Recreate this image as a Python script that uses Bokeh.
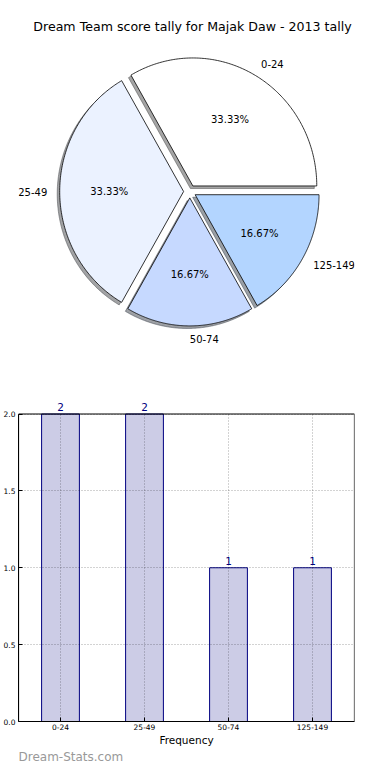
import numpy as np
from bokeh.plotting import figure
from bokeh.models import (Range1d, ColumnDataSource, Label, LabelSet,
                          FixedTicker, PrintfTickFormatter)
from bokeh.layouts import column
from bokeh.embed import file_html
from bokeh.resources import INLINE
from bokeh.core.properties import value

# ---------------- data ----------------
chart_title = "Dream Team score tally for Majak Daw - 2013 tally"
bins = ["0-24", "25-49", "50-74", "125-149"]
counts = [2, 2, 1, 1]
slice_colors = ["#FFFFFF", "#EBF2FF", "#C6D9FF", "#B3D5FF"]
bar_color = "#000080"
x_label = "Frequency"
y_ticks = [0.0, 0.5, 1.0, 1.5, 2.0]
watermark = "Dream-Stats.com"

FONT = "DejaVu Sans"
W = 358
H1 = 356
H2 = 392
H3 = 16
EXPLODE = 0.05

# ---------------- pie ----------------
total = float(sum(counts))
fracs = np.array(counts, dtype=float) / total
bounds = np.concatenate([[0.0], np.cumsum(fracs)]) * 2 * np.pi

pie = figure(width=W, height=H1,
             x_range=Range1d(-1.3826, 1.3295), y_range=Range1d(-1.289, 1.4922),
             output_backend="svg", toolbar_location=None, min_border=0)
pie.axis.visible = False
pie.grid.visible = False
pie.outline_line_color = None
pie.background_fill_color = "white"

def hex_to_rgb(h):
    h = h.lstrip("#")
    return tuple(int(h[i:i + 2], 16) for i in (0, 2, 4))

wx, wy, sx, sy, shadow_cols = [], [], [], [], []
lab_x, lab_y, lab_align = [], [], []
pct_x, pct_y, pct_txt = [], [], []
for i in range(len(counts)):
    t = np.linspace(bounds[i], bounds[i + 1], 160)
    mid = 0.5 * (bounds[i] + bounds[i + 1])
    ox, oy = EXPLODE * np.cos(mid), EXPLODE * np.sin(mid)
    px = np.concatenate([[ox], ox + np.cos(t), [ox]])
    py = np.concatenate([[oy], oy + np.sin(t), [oy]])
    wx.append(px)
    wy.append(py)
    sx.append(px - 0.02)
    sy.append(py - 0.02)
    r, g, b = hex_to_rgb(slice_colors[i])
    shadow_cols.append("#%02x%02x%02x" % (int(r * 0.3), int(g * 0.3), int(b * 0.3)))
    lab_x.append(ox + 1.1 * np.cos(mid))
    lab_y.append(oy + 1.1 * np.sin(mid))
    lab_align.append("left" if np.cos(mid) >= -1e-9 else "right")
    pct_x.append(ox + 0.6 * np.cos(mid))
    pct_y.append(oy + 0.6 * np.sin(mid))
    pct_txt.append("%.2f%%" % (fracs[i] * 100))

pie.patches(xs=sx, ys=sy, fill_color=shadow_cols, fill_alpha=0.5,
            line_color=shadow_cols, line_alpha=0.5, line_width=1)
pie.patches(xs=wx, ys=wy, fill_color=slice_colors, line_color="black", line_width=0.8)

lab_src = ColumnDataSource(dict(x=lab_x, y=lab_y, t=bins, a=lab_align))
pie.text(x="x", y="y", text="t", text_align="a", source=lab_src,
         text_baseline="middle", text_font=value(FONT), text_font_size="10px",
         text_color="black")
pct_src = ColumnDataSource(dict(x=pct_x, y=pct_y, t=pct_txt))
pie.text(x="x", y="y", text="t", source=pct_src, text_align="center",
         text_baseline="middle", text_font=value(FONT), text_font_size="10px",
         text_color="black")

pie.add_layout(Label(x=174, y=H1 - 26, x_units="screen", y_units="screen",
                     text=chart_title, text_align="center", text_baseline="middle",
                     text_font=FONT, text_font_size="12.6px", text_color="black"))

# ---------------- bars ----------------
idx = list(range(len(bins)))
x_lo, x_hi = -0.5, len(bins) - 0.5
y_lo, y_hi = 0.0, max(y_ticks)

bar = figure(width=W, height=H2, x_range=Range1d(x_lo, x_hi),
             y_range=Range1d(y_lo, 2.14), output_backend="svg", toolbar_location=None,
             min_border_left=16, min_border_right=4, min_border_top=36,
             min_border_bottom=25)
bar.background_fill_color = "white"
bar.outline_line_color = None

bsrc = ColumnDataSource(dict(x=idx, y=counts, t=[str(c) for c in counts]))
bar.vbar(x="x", top="y", width=0.45, source=bsrc, fill_color=bar_color,
         fill_alpha=0.2, line_color=bar_color, line_width=1)

# axes box (frame of the 0..2 region)
bar.quad(left=[x_lo], right=[x_hi], bottom=[y_lo], top=[y_hi], fill_color=None,
         line_color="black", line_width=1.2)

bar.add_layout(LabelSet(x="x", y="y", text="t", source=bsrc, text_align="center",
                        text_baseline="bottom", y_offset=3, text_font=value(FONT),
                        text_font_size="10.5px", text_color="#000080"))

for g in (bar.xgrid, bar.ygrid):
    g.grid_line_color = "black"
    g.grid_line_alpha = 0.35
    g.grid_line_dash = "1 2"
    g.grid_line_width = 1
    g.level = "overlay"
bar.xgrid.cross_bounds = (y_lo, y_hi)

bar.yaxis.ticker = FixedTicker(ticks=y_ticks)
bar.yaxis.formatter = PrintfTickFormatter(format="%.1f")
bar.yaxis.bounds = (y_lo, y_hi)
bar.xaxis.ticker = FixedTicker(ticks=idx)
bar.xaxis.major_label_overrides = {i: b for i, b in zip(idx, bins)}
for ax in (bar.xaxis, bar.yaxis):
    ax.major_label_text_font = FONT
    ax.major_label_text_font_size = "7.5px"
    ax.major_label_text_color = "black"
    ax.major_tick_in = 4
    ax.major_tick_out = 0
    ax.minor_tick_in = 0
    ax.minor_tick_out = 0
    ax.axis_line_color = "black"
    ax.major_tick_line_color = "black"
    ax.major_label_standoff = 3
bar.xaxis.major_label_standoff = 2
bar.xaxis.axis_label = x_label
bar.xaxis.axis_label_text_font = FONT
bar.xaxis.axis_label_text_font_size = "10.5px"
bar.xaxis.axis_label_text_font_style = "normal"
bar.xaxis.axis_label_text_color = "black"
bar.xaxis.axis_label_standoff = 1

# ---------------- watermark strip ----------------
wm = figure(width=W, height=H3, x_range=Range1d(0, 1), y_range=Range1d(0, 1),
            output_backend="svg", toolbar_location=None, min_border=0)
wm.axis.visible = False
wm.grid.visible = False
wm.outline_line_color = None
wm.add_layout(Label(x=0, y=1, x_units="screen", y_units="screen",
                    text=watermark, text_align="left", text_baseline="bottom",
                    text_font=FONT, text_font_size="12px", text_color="#999999"))

layout = column(pie, bar, wm, spacing=0)
open("out.html", "w").write(file_html(layout, INLINE))
